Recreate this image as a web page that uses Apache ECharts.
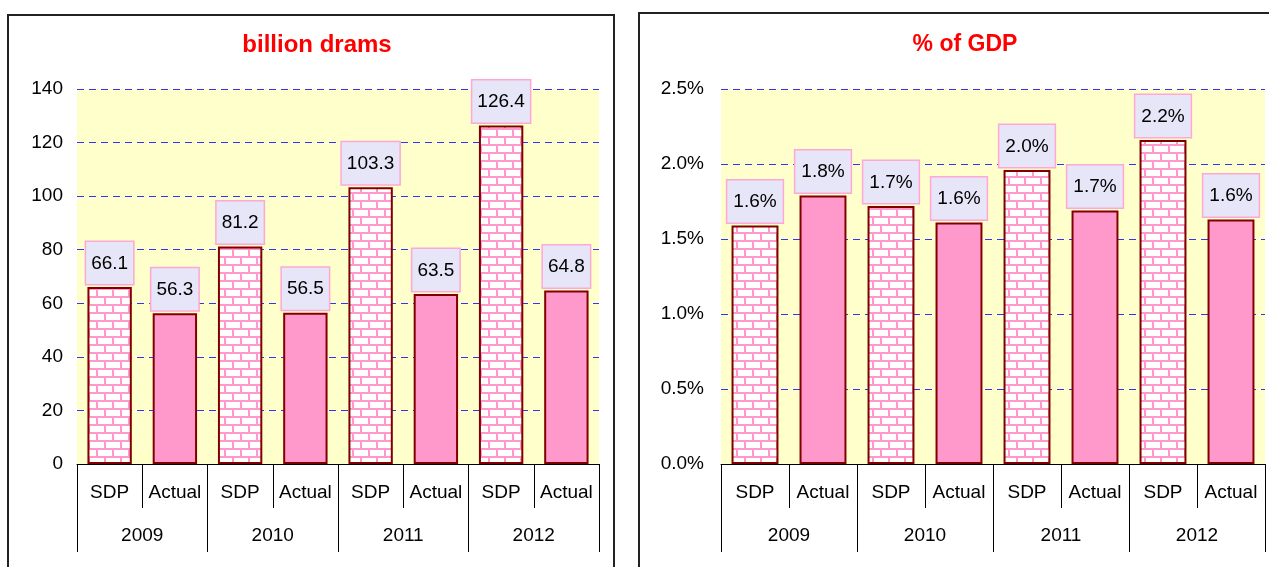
<!DOCTYPE html>
<html>
<head>
<meta charset="utf-8">
<script src="https://cdn.jsdelivr.net/npm/echarts@6/dist/echarts.min.js"></script>
<style>
    html, body { margin: 0; padding: 0; background: #fff; overflow: hidden; }
    #chart { position: absolute; left: 0; top: 0; width: 1269px; height: 567px; }
    .panel { position: absolute; border: 2px solid #222; pointer-events: none; }
</style>
</head>
<body>
<div id="chart"></div>
<div class="panel" style="left:7px;top:14px;width:604px;height:600px;"></div>
<div class="panel" style="left:638px;top:12px;width:700px;height:600px;"></div>
<script>
// data
const years = ['2009', '2010', '2011', '2012'];
const kinds = ['SDP', 'Actual'];
const sdpBillion = [66.1, 81.2, 103.3, 126.4];
const actualBillion = [56.3, 56.5, 63.5, 64.8];
const sdpGdp = [1.59, 1.72, 1.96, 2.16];
const actualGdp = [1.79, 1.61, 1.69, 1.63];
const billionTicks = [0, 20, 40, 60, 80, 100, 120, 140];
const gdpTicks = [0, 0.5, 1.0, 1.5, 2.0, 2.5];

const font = 'Liberation Sans, Arial, sans-serif';
const pink = '#ff99cc';
const border = '#800000';

function brickPattern() {
    let c = document.createElement('canvas');
    c.width = 16;
    c.height = 16;
    let g = c.getContext('2d');
    g.fillStyle = '#fff';
    g.fillRect(0, 0, 16, 16);
    g.fillStyle = pink;
    g.fillRect(0, 0, 16, 2);
    g.fillRect(0, 8, 16, 2);
    g.fillRect(0, 0, 2, 8);
    g.fillRect(8, 8, 2, 8);
    return c;
}
const bricks = {image: brickPattern(), repeat: 'repeat'};

const categories = years.flatMap(() => kinds);

function barData(sdp, actual) {
    let out = [];
    for (let i = 0; i < years.length; i++) {
        out.push({value: sdp[i], itemStyle: {color: bricks}});
        out.push({value: actual[i], itemStyle: {color: pink}});
    }
    return out;
}

function catAxis(grid) {
    return {
        type: 'category', gridIndex: grid, position: 'bottom', data: categories,
        axisLine: {show: true, lineStyle: {color: '#000', width: 1}},
        axisTick: {show: true, interval: 0, length: 44, lineStyle: {color: '#000', width: 1}},
        axisLabel: {interval: 0, margin: 19, fontSize: 19, color: '#000', fontFamily: font}
    };
}

function yearAxis(grid) {
    return {
        type: 'category', gridIndex: grid, position: 'bottom', data: years,
        axisLine: {show: false},
        axisTick: {show: true, interval: 0, length: 88, lineStyle: {color: '#000', width: 1}},
        axisLabel: {interval: 0, margin: 62, fontSize: 19, color: '#000', fontFamily: font}
    };
}

function valAxis(grid, ticks, margin, fmt) {
    return {
        type: 'value', gridIndex: grid,
        min: ticks[0], max: ticks[ticks.length - 1], interval: ticks[1] - ticks[0],
        axisLine: {show: false},
        axisTick: {show: false},
        axisLabel: {margin: margin, fontSize: 19, color: '#000', fontFamily: font, formatter: fmt},
        splitLine: {show: true, lineStyle: {color: '#3333ff', type: [7, 5], width: 1}}
    };
}

function labelStyle(fmt, padX) {
    return {
        show: true, position: 'top', distance: 3,
        fontSize: 19, color: '#000', fontFamily: font,
        backgroundColor: '#e6e6f8', borderColor: '#ffa8d4', borderWidth: 1.5,
        padding: [12, padX, 11, padX],
        formatter: p => fmt(p.value)
    };
}

const fmtBillion = v => v.toFixed(1);
const fmtPct = v => v.toFixed(1) + '%';

let myChart = echarts.init(document.getElementById('chart'));

myChart.setOption({
    animation: false,
    title: [
        {text: 'billion drams', left: 317, top: 33, textAlign: 'center', padding: 0,
            textStyle: {color: '#ff0000', fontSize: 24, fontWeight: 'bold', fontFamily: font}},
        {text: '% of GDP', left: 965, top: 33, textAlign: 'center', padding: 0,
            textStyle: {color: '#ff0000', fontSize: 23, fontWeight: 'bold', fontFamily: font}}
    ],
    grid: [
        {left: 77, top: 89, width: 522, height: 375, show: true, backgroundColor: '#ffffcc', borderWidth: 0},
        {left: 721, top: 89, width: 544, height: 375, show: true, backgroundColor: '#ffffcc', borderWidth: 0}
    ],
    xAxis: [catAxis(0), yearAxis(0), catAxis(1), yearAxis(1)],
    yAxis: [
        valAxis(0, billionTicks, 14, v => v),
        valAxis(1, gdpTicks, 17, v => v.toFixed(1) + '%')
    ],
    series: [
        {
            type: 'bar', xAxisIndex: 0, yAxisIndex: 0, barWidth: '68%',
            data: barData(sdpBillion, actualBillion),
            itemStyle: {borderColor: border, borderWidth: 2},
            label: labelStyle(fmtBillion, 5)
        },
        {
            type: 'bar', xAxisIndex: 2, yAxisIndex: 1, barWidth: '69%',
            data: barData(sdpGdp, actualGdp),
            itemStyle: {borderColor: border, borderWidth: 2},
            label: labelStyle(fmtPct, 6)
        }
    ]
});
</script>
</body>
</html>
